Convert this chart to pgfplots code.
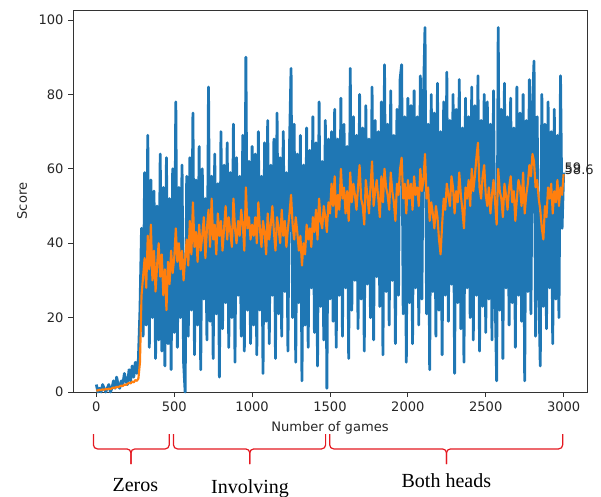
\documentclass[border=0pt]{standalone}
\usepackage{fontspec}
\setmainfont{DejaVu Sans}
\newfontfamily\timesfont{Liberation Serif}
\usepackage{pgfplots}
\pgfplotsset{compat=1.18}
\definecolor{mplblue}{HTML}{1F77B4}
\definecolor{mplorange}{HTML}{FF7F0E}
\definecolor{bracered}{RGB}{228,24,32}
\begin{document}
\begin{tikzpicture}
\path[use as bounding box] (-54.75pt,-78.75pt) rectangle (396pt,294pt);
\begin{axis}[
  scale only axis, width=385.5pt, height=286.5pt,
  xmin=-150, xmax=3150, ymin=0, ymax=102.7,
  xtick={0,500,...,3000}, ytick={0,20,...,100},
  tick align=outside, tick pos=left, major tick length=3.6pt,
  axis line style={black!80, line width=0.7pt},
  every tick/.style={black!80, line width=0.7pt},
  ticklabel style={font=\fontsize{9.8}{11}\selectfont, text=black!85},
  /pgf/number format/assume math mode=true,
  /pgf/number format/1000 sep={},
  scaled ticks=false,
  xlabel={Number of games}, ylabel={Score},
  label style={font=\fontsize{9.8}{11}\selectfont, text=black!85},
  xlabel style={at={(axis description cs:0.5,-0.094)}, anchor=center},
  ylabel style={at={(axis description cs:-0.099,0.5)}, anchor=center},
  clip=false,
]
\addplot[mplblue, line width=2.1pt, line join=round] coordinates {
(0,2)(10,0)(20,1)(30,0)(40,2)(50,1)(60,0)(70,1)(80,2)(90,0)(100,1)(110,3)(120,1)(130,4)(140,2)(150,1)(160,3)(170,2)(180,5)(190,3)(200,2)(210,6)(220,3)(230,7)(240,4)(250,8)(260,5)(270,9)
(280,22)(290,44)(300,15)(310,59)(320,18)(330,69)(340,12)(350,57)(360,20)(370,54)(380,9)(390,50)(400,14)(410,64)(420,11)(430,55)(440,7)(450,63)(460,13)(470,52)(480,6)(490,60)(500,16)
(510,78)(520,12)(530,55)(540,20)(550,61)(560,8)(570,0)(580,58)(590,15)(600,63)(610,22)(620,75)(630,10)(640,57)(650,18)(660,66)(670,6)(680,60)(690,25)(700,52)(710,14)(720,82)(730,19)(740,58)(750,9)(760,64)(770,21)(780,56)(790,4)(800,70)(810,17)(820,61)(830,24)(840,67)(850,12)(860,59)(870,20)(880,72)(890,8)(900,63)(910,26)(920,58)(930,15)(940,69)(950,11)(960,90)(970,22)(980,62)(990,13)(1000,66)
(1010,18)(1020,64)(1030,10)(1040,70)(1050,22)(1060,58)(1070,5)(1080,67)(1090,19)(1100,73)(1110,13)(1120,61)(1130,26)(1140,68)(1150,9)(1160,75)(1170,21)(1180,63)(1190,15)(1200,70)(1210,27)(1220,59)(1230,11)(1240,66)(1250,87)(1260,20)(1270,72)(1280,8)(1290,64)(1300,24)(1310,69)(1320,3)(1330,61)(1340,18)(1350,71)(1360,12)(1370,65)(1380,28)(1390,74)(1400,16)(1410,67)(1420,7)(1430,78)(1440,23)(1450,62)(1460,14)(1470,73)(1480,1)(1490,68)(1500,25)
(1510,70)(1520,19)(1530,76)(1540,12)(1550,68)(1560,26)(1570,79)(1580,15)(1590,72)(1600,28)(1610,66)(1620,9)(1630,87)(1640,22)(1650,74)(1660,30)(1670,69)(1680,17)(1690,80)(1700,25)(1710,71)(1720,11)(1730,77)(1740,29)(1750,68)(1760,20)(1770,82)(1780,14)(1790,73)(1800,31)(1810,70)(1820,23)(1830,78)(1840,10)(1850,88)(1860,27)(1870,72)(1880,18)(1890,81)(1900,30)(1910,69)(1920,13)(1930,76)(1940,26)(1950,84)(1960,88)(1970,21)(1980,74)(1990,8)(2000,79)
(2010,24)(2020,77)(2030,13)(2040,81)(2050,28)(2060,74)(2070,18)(2080,85)(2090,25)(2100,79)(2110,98)(2120,21)(2130,72)(2140,6)(2150,80)(2160,27)(2170,75)(2180,15)(2190,83)(2200,22)(2210,70)(2220,10)(2230,78)(2240,26)(2250,86)(2260,19)(2270,73)(2280,29)(2290,80)(2300,5)(2310,76)(2320,24)(2330,84)(2340,17)(2350,71)(2360,8)(2370,79)(2380,28)(2390,74)(2400,20)(2410,82)(2420,14)(2430,77)(2440,26)(2450,85)(2460,11)(2470,73)(2480,23)(2490,80)(2500,16)
(2510,78)(2520,25)(2530,72)(2540,14)(2550,81)(2560,27)(2570,3)(2580,98)(2590,22)(2600,76)(2610,9)(2620,83)(2630,28)(2640,74)(2650,18)(2660,79)(2670,24)(2680,71)(2690,12)(2700,82)(2710,26)(2720,75)(2730,19)(2740,80)(2750,3)(2760,73)(2770,27)(2780,84)(2790,21)(2800,77)(2810,89)(2820,15)(2830,74)(2840,29)(2850,7)(2860,80)(2870,23)(2880,72)(2890,17)(2900,78)(2910,28)(2920,70)(2930,13)(2940,76)(2950,25)(2960,69)(2970,20)(2980,85)(2990,44)(3000,59)
};
\addplot[mplorange, line width=1.6pt, line join=round] coordinates {
(0,0.5)(10,0.4)(20,0.6)(30,0.5)(40,0.7)(50,0.6)(60,0.8)(70,0.7)(80,0.9)(90,0.8)(100,1.0)(110,1.2)(120,1.1)(130,1.4)(140,1.3)(150,1.5)(160,1.7)(170,1.6)(180,2.0)(190,1.9)(200,2.2)(210,2.5)(220,2.3)(230,2.8)(240,2.6)(250,3.2)(260,3.0)(270,3.6)
(280,8)(290,26)(300,31)(310,36)(320,28)(330,42)(340,33)(350,45)(360,30)(370,38)(380,27)(390,34)(400,40)(410,31)(420,37)(430,26)(440,33)(450,22)(460,35)(470,29)(480,38)(490,32)(500,36)
(510,44)(520,35)(530,40)(540,33)(550,38)(560,30)(570,36)(580,41)(590,34)(600,46)(610,37)(620,51)(630,39)(640,43)(650,35)(660,45)(670,38)(680,42)(690,47)(700,36)(710,44)(720,49)(730,39)(740,52)(750,41)(760,45)(770,37)(780,48)(790,42)(800,46)(810,38)(820,44)(830,50)(840,41)(850,47)(860,43)(870,39)(880,52)(890,44)(900,40)(910,46)(920,42)(930,49)(940,45)(950,38)(960,55)(970,44)(980,47)(990,41)(1000,45)
(1010,42)(1020,47)(1030,40)(1040,51)(1050,44)(1060,39)(1070,46)(1080,43)(1090,37)(1100,48)(1110,41)(1120,45)(1130,50)(1140,43)(1150,38)(1160,47)(1170,44)(1180,40)(1190,49)(1200,42)(1210,46)(1220,39)(1230,44)(1240,48)(1250,53)(1260,45)(1270,41)(1280,47)(1290,43)(1300,38)(1310,42)(1320,34)(1330,40)(1340,37)(1350,45)(1360,41)(1370,44)(1380,39)(1390,47)(1400,43)(1410,49)(1420,41)(1430,52)(1440,46)(1450,44)(1460,50)(1470,47)(1480,43)(1490,51)(1500,48)
(1510,56)(1520,50)(1530,58)(1540,47)(1550,53)(1560,49)(1570,60)(1580,52)(1590,55)(1600,48)(1610,54)(1620,46)(1630,59)(1640,51)(1650,56)(1660,53)(1670,49)(1680,55)(1690,61)(1700,52)(1710,50)(1720,45)(1730,57)(1740,53)(1750,48)(1760,55)(1770,62)(1780,50)(1790,54)(1800,57)(1810,52)(1820,47)(1830,58)(1840,51)(1850,60)(1860,55)(1870,53)(1880,49)(1890,59)(1900,54)(1910,51)(1920,46)(1930,56)(1940,53)(1950,60)(1960,63)(1970,52)(1980,56)(1990,48)(2000,57)
(2010,52)(2020,56)(2030,49)(2040,58)(2050,53)(2060,55)(2070,50)(2080,60)(2090,54)(2100,57)(2110,64)(2120,52)(2130,55)(2140,46)(2150,51)(2160,48)(2170,44)(2180,50)(2190,47)(2200,41)(2210,37)(2220,45)(2230,52)(2240,49)(2250,56)(2260,53)(2270,50)(2280,58)(2290,55)(2300,48)(2310,54)(2320,51)(2330,59)(2340,53)(2350,49)(2360,44)(2370,55)(2380,52)(2390,57)(2400,50)(2410,60)(2420,54)(2430,58)(2440,63)(2450,67)(2460,55)(2470,52)(2480,58)(2490,61)(2500,53)
(2510,50)(2520,55)(2530,48)(2540,53)(2550,57)(2560,51)(2570,45)(2580,60)(2590,54)(2600,52)(2610,47)(2620,56)(2630,53)(2640,49)(2650,55)(2660,58)(2670,51)(2680,54)(2690,46)(2700,52)(2710,57)(2720,55)(2730,50)(2740,59)(2750,48)(2760,53)(2770,56)(2780,61)(2790,58)(2800,64)(2810,62)(2820,55)(2830,57)(2840,52)(2850,49)(2860,44)(2870,41)(2880,50)(2890,47)(2900,55)(2910,52)(2920,56)(2930,48)(2940,54)(2950,51)(2960,57)(2970,50)(2980,55)(2990,53)(3000,58.6)
};
\node[anchor=base west, inner sep=0pt, font=\fontsize{9.8}{11}\selectfont, text=black!85] at (axis cs:3005,59) {59};
\node[anchor=base west, inner sep=0pt, font=\fontsize{9.8}{11}\selectfont, text=black!85] at (axis cs:3005,58.6) {58.6};
% braces
\draw[bracered, line width=0.9pt, rounded corners=3pt] (axis cs:-19,-11.3) -- (axis cs:-19,-15.3) -- (axis cs:222,-15.3) -- (axis cs:222,-19.4);
\draw[bracered, line width=0.9pt, rounded corners=3pt] (axis cs:468,-11.3) -- (axis cs:468,-15.3) -- (axis cs:222,-15.3) -- (axis cs:222,-19.4);
\draw[bracered, line width=0.9pt, rounded corners=3pt] (axis cs:495,-11.3) -- (axis cs:495,-15.3) -- (axis cs:985,-15.3) -- (axis cs:985,-19.4);
\draw[bracered, line width=0.9pt, rounded corners=3pt] (axis cs:1472,-11.3) -- (axis cs:1472,-15.3) -- (axis cs:985,-15.3) -- (axis cs:985,-19.4);
\draw[bracered, line width=0.9pt, rounded corners=3pt] (axis cs:1498,-11.3) -- (axis cs:1498,-15.3) -- (axis cs:2248,-15.3) -- (axis cs:2248,-19.4);
\draw[bracered, line width=0.9pt, rounded corners=3pt] (axis cs:2994,-11.3) -- (axis cs:2994,-15.3) -- (axis cs:2248,-15.3) -- (axis cs:2248,-19.4);
\node[anchor=base, inner sep=0pt, font=\timesfont\fontsize{15}{18}\selectfont] at (axis cs:250,-26.8) {Zeros};
\node[anchor=base, inner sep=0pt, font=\timesfont\fontsize{15}{18}\selectfont] at (axis cs:987,-27.2) {Involving};
\node[anchor=base, inner sep=0pt, font=\timesfont\fontsize{15}{18}\selectfont] at (axis cs:2247,-25.8) {Both heads};
\end{axis}
\end{tikzpicture}
\end{document}
